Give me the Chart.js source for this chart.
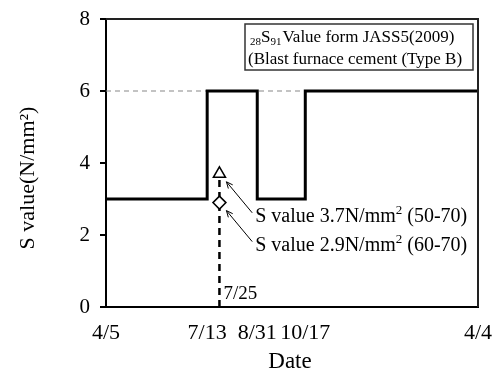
<!DOCTYPE html>
<html><head><meta charset="utf-8">
<script src="https://cdn.jsdelivr.net/npm/chart.js@4/dist/chart.umd.min.js"></script>
<style>html,body{margin:0;padding:0;background:#fff}</style>
</head><body>
<canvas id="c" width="497" height="374"></canvas>
<script>
// Days are counted from 4/5 (day 0) to 4/4 of the following year (day 364)
const tickDays = [0, 99, 148, 195, 364];
const tickLabels = ['4/5', '7/13', '8/31', '10/17', '4/4'];
// Specified 28S91 value: changes at 7/13, 8/31 and 10/17
const stepDays = [0, 99, 148, 195, 364];
const stepValues = [3, 6, 3, 6, 6];
const refLevel = 6;
// Measured S values on 7/25
const measureDay = 111;
const measureLabel = '7/25';
const measureValues = [3.7, 2.9];
const measureNotes = ['(50-70)', '(60-70)'];
const yTicks = [0, 2, 4, 6, 8];

const SERIF = '"Liberation Serif", "Times New Roman", serif';

const stepData = stepDays.map((d, i) => ({ x: d, y: stepValues[i] }));
const refData = [{ x: tickDays[0], y: refLevel }, { x: tickDays[tickDays.length - 1], y: refLevel }];
const dropData = [{ x: measureDay, y: 0 }, { x: measureDay, y: measureValues[0] }];

function arrow(ctx, x1, y1, x2, y2) {
  ctx.beginPath();
  ctx.moveTo(x1, y1); ctx.lineTo(x2, y2); ctx.stroke();
  const a = Math.atan2(y2 - y1, x2 - x1), L = 7, w = 0.42;
  ctx.beginPath();
  ctx.moveTo(x2 - L * Math.cos(a - w), y2 - L * Math.sin(a - w));
  ctx.lineTo(x2, y2);
  ctx.lineTo(x2 - L * Math.cos(a + w), y2 - L * Math.sin(a + w));
  ctx.stroke();
}

const decor = {
  id: 'decor',
  afterDraw(chart) {
    const { ctx, chartArea: ca, scales: { x, y } } = chart;
    ctx.save();
    // top and right frame
    ctx.strokeStyle = '#222'; ctx.lineWidth = 2;
    ctx.beginPath();
    ctx.moveTo(ca.left, ca.top); ctx.lineTo(ca.right, ca.top); ctx.lineTo(ca.right, ca.bottom);
    ctx.stroke();

    ctx.fillStyle = '#000';

    // axis titles
    ctx.font = '23px ' + SERIF;
    ctx.textAlign = 'center'; ctx.textBaseline = 'middle';
    ctx.fillText('Date', 290, 362);
    ctx.save();
    ctx.translate(28, 178); ctx.rotate(-Math.PI / 2);
    ctx.font = '22px ' + SERIF;
    ctx.fillText('S value(N/mm²)', 0, 0);
    ctx.restore();
    ctx.textAlign = 'left'; ctx.textBaseline = 'alphabetic';

    // title box
    const bx = 245, by = 24, bw = 228, bh = 46;
    ctx.fillStyle = '#fff'; ctx.fillRect(bx, by, bw, bh);
    ctx.strokeStyle = '#333'; ctx.lineWidth = 1.5; ctx.strokeRect(bx, by, bw, bh);
    ctx.fillStyle = '#000';
    let tx = bx + 5; const l1 = by + 18;
    ctx.font = '11px ' + SERIF; ctx.fillText('28', tx, l1 + 3); tx += ctx.measureText('28').width;
    ctx.font = '17px ' + SERIF; ctx.fillText('S', tx, l1); tx += ctx.measureText('S').width;
    ctx.font = '11px ' + SERIF; ctx.fillText('91', tx, l1 + 3); tx += ctx.measureText('91').width;
    ctx.font = '17px ' + SERIF; ctx.fillText('Value form JASS5(2009)', tx + 1, l1);
    ctx.fillText('(Blast furnace cement (Type B)', bx + 3, by + 40);

    // measurement annotations
    const px = x.getPixelForValue(measureDay);
    ctx.strokeStyle = '#000'; ctx.lineWidth = 1;
    measureValues.forEach((v, i) => {
      const py = y.getPixelForValue(v);
      const textX = x.getPixelForValue(146), textY = py + 41;
      arrow(ctx, textX - 3, textY - 2, px + 7, py + 8);
      let cx = textX;
      ctx.font = '20px ' + SERIF;
      const s1 = 'S value ' + v.toFixed(1) + 'N/mm';
      ctx.fillText(s1, cx, textY + 7); cx += ctx.measureText(s1).width;
      ctx.font = '13px ' + SERIF; ctx.fillText('2', cx, textY - 1); cx += ctx.measureText('2').width;
      ctx.font = '20px ' + SERIF; ctx.fillText(' ' + measureNotes[i], cx, textY + 7);
    });
    ctx.font = '19px ' + SERIF;
    ctx.fillText(measureLabel, px + 4, y.getPixelForValue(0) - 8);
    ctx.restore();
  }
};

new Chart(document.getElementById('c'), {
  type: 'line',
  data: {
    datasets: [
      { data: refData, borderColor: '#888', borderWidth: 1.2, borderDash: [5, 4], pointRadius: 0, order: 3 },
      { data: stepData, stepped: 'before', borderColor: '#000', borderWidth: 3, pointRadius: 0, order: 1 },
      { data: dropData, borderColor: '#000', borderWidth: 2.5, borderDash: [7, 5], pointRadius: 0, order: 2 },
      { data: [{ x: measureDay, y: measureValues[0] }], showLine: false, pointStyle: 'triangle', pointRadius: 7,
        pointBackgroundColor: '#fff', pointBorderColor: '#000', pointBorderWidth: 1.5, order: 0 },
      { data: [{ x: measureDay, y: measureValues[1] }], showLine: false, pointStyle: 'rectRot', pointRadius: 6.5,
        pointBackgroundColor: '#fff', pointBorderColor: '#000', pointBorderWidth: 1.5, order: 0 }
    ]
  },
  options: {
    responsive: false, animation: false, devicePixelRatio: 1,
    layout: { padding: { top: 19, right: 19, left: 0, bottom: 0 } },
    plugins: { legend: { display: false }, tooltip: { enabled: false } },
    scales: {
      x: {
        type: 'linear', min: tickDays[0], max: tickDays[tickDays.length - 1],
        afterBuildTicks: s => { s.ticks = tickDays.map(v => ({ value: v })); },
        afterFit: s => { s.height = 67; s.paddingLeft = 0; s.paddingRight = 0; },
        grid: { display: false, drawTicks: false },
        border: { display: true, color: '#000', width: 2 },
        ticks: { color: '#000', font: { family: SERIF, size: 22 }, padding: 13, maxRotation: 0, autoSkip: false,
          callback: v => tickLabels[tickDays.indexOf(v)] }
      },
      y: {
        min: 0, max: 8,
        afterBuildTicks: s => { s.ticks = yTicks.map(v => ({ value: v })); },
        afterFit: s => { s.width = 106; s.paddingTop = 0; s.paddingBottom = 0; },
        grid: { drawOnChartArea: false, drawTicks: true, tickLength: 6, color: '#000', lineWidth: 2 },
        border: { display: true, color: '#000', width: 2 },
        ticks: { color: '#000', font: { family: SERIF, size: 21 }, padding: 10 }
      }
    }
  },
  plugins: [decor]
});
</script>
</body></html>
